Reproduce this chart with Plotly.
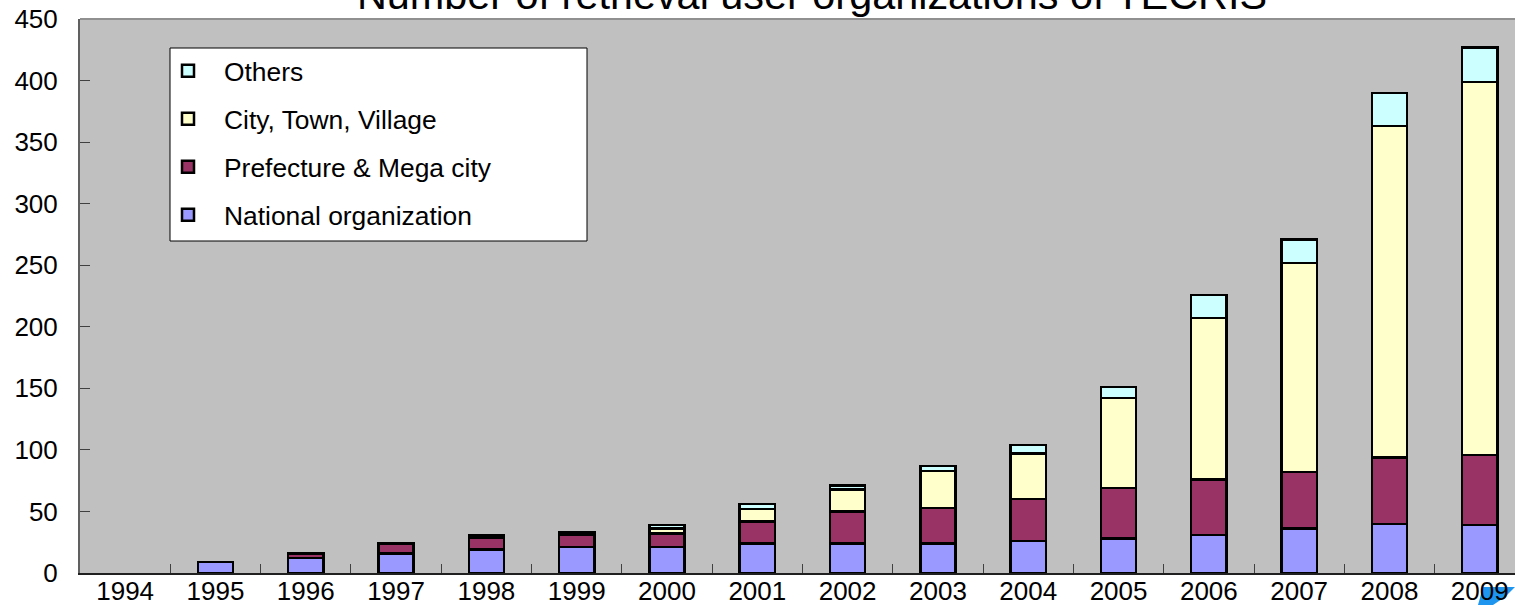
import plotly.graph_objects as go

years = [str(y) for y in range(1994, 2010)]
national = [None, 9, 12, 16, 19, 21, 21, 24, 24, 24, 26, 28, 31, 36, 40, 39]
prefecture = [None, None, 4, 8, 10, 10, 11, 18, 26, 29, 34, 41, 45, 46, 54, 57]
city = [None, None, None, None, 1, 1, 4, 10, 18, 30, 37, 73, 131, 170, 269, 303]
others = [None, None, None, None, 1, 1, 3, 4, 3, 4, 7, 9, 19, 19, 27, 28]
y_ticks = [0, 50, 100, 150, 200, 250, 300, 350, 400, 450]

FONT = "Liberation Sans"
series = [
    ("National organization", national, "#9999FF", 4),
    ("Prefecture & Mega city", prefecture, "#993366", 3),
    ("City, Town, Village", city, "#FFFFCC", 2),
    ("Others", others, "#CCFFFF", 1),
]

fig = go.Figure()
for name, values, color, rank in series:
    fig.add_bar(
        x=years, y=values, name=name, legendgroup=name, legendrank=rank, width=0.39,
        marker=dict(color=color, line=dict(color="#000000", width=2.5)),
    )


def px(x):
    return (x - 80) / 1435


def py(y):
    return (573 - y) / 554


fig.update_layout(
    width=1515, height=605, barmode="stack", showlegend=True,
    paper_bgcolor="#FFFFFF", plot_bgcolor="#C0C0C0",
    margin=dict(l=80, r=0, t=19, b=32, autoexpand=False),
    font=dict(family=FONT, color="#000000", size=26),
    title=dict(
        text="Number of retrieval user organizations of TECRIS",
        font=dict(size=41.4, family=FONT), x=812 / 1515, xanchor="center",
        y=1 - 9 / 605, yanchor="bottom", yref="container",
    ),
    legend=dict(
        x=px(152), xanchor="left", y=py(47), yanchor="top",
        bgcolor="rgba(0,0,0,0)", borderwidth=0,
        font=dict(size=26.4, family=FONT), traceorder="grouped",
        tracegroupgap=10.7, itemwidth=62,
        itemclick=False, itemdoubleclick=False,
    ),
)
fig.update_xaxes(
    type="category", categoryorder="array", categoryarray=years,
    range=[-0.5, 15.39], tickson="boundaries", ticks="inside", ticklen=9,
    tickwidth=1, tickcolor="#404040", showline=True, linecolor="#202020",
    linewidth=2, showgrid=False, zeroline=False, tickangle=0,
    ticklabelstandoff=-6, tickfont=dict(size=26, family=FONT),
)
fig.update_yaxes(
    range=[0, 450], tickvals=y_ticks, ticktext=[str(v) for v in y_ticks],
    ticks="inside", ticklen=10, tickwidth=1, tickcolor="#404040",
    showline=True, linecolor="#606060", linewidth=2, showgrid=False,
    zeroline=False, ticklabelstandoff=15,
    tickfont=dict(size=26, family=FONT),
)
fig.add_shape(type="line", xref="paper", yref="paper", x0=0, x1=1, y0=1, y1=1,
              line=dict(color="#909090", width=2))
fig.add_shape(type="rect", xref="paper", yref="paper", layer="above",
              x0=px(170), x1=px(587), y0=py(241), y1=py(48),
              fillcolor="#FFFFFF", line=dict(color="#000000", width=1))
logo = [(1483, 587), (1515, 587), (1505, 597), (1493, 605), (1478, 605)]
logo_path = "M " + " L ".join(f"{px(a):.5f} {py(b):.5f}" for a, b in logo) + " Z"
fig.add_shape(type="path", xref="paper", yref="paper", layer="below", path=logo_path,
              fillcolor="#1E96F0", line=dict(width=0))

fig.write_html(
    "out.html",
    config=dict(displayModeBar=False),
    post_script="document.body.style.margin='0';document.body.style.overflow='hidden';",
)
